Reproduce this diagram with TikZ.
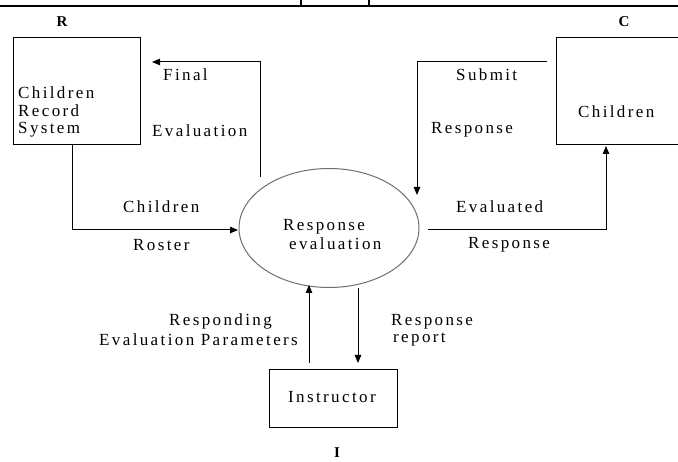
\documentclass[tikz,border=0pt]{standalone}
\usepackage{fontspec}
\setmainfont{Liberation Serif}
\newfontfamily\spaced[LetterSpace=14]{Liberation Serif}
\usetikzlibrary{shapes.geometric,arrows.meta}
\definecolor{ellgray}{RGB}{110,110,110}
\begin{document}
\begin{tikzpicture}[x=1pt,y=-1pt,
  box/.style={draw,line width=1pt,inner sep=0pt},
  lbl/.style={font=\spaced\fontsize{17}{19}\selectfont,inner sep=0pt,anchor=west},
  tag/.style={font=\bfseries\fontsize{15}{17}\selectfont,inner sep=0pt},
  arr/.style={line width=1pt,-{Triangle[length=8pt,width=6.5pt]}}]
\useasboundingbox (0,0) rectangle (678,462);
% table fragment on top
\draw[line width=1.3pt] (0,6) -- (678,6);
\draw[line width=1.3pt] (301,0) -- (301,6);
\draw[line width=1.3pt] (369,0) -- (369,6);
% entities
\node[box,minimum width=127pt,minimum height=107pt] (rbox) at (76.5,91.5) {};
\node[box,minimum width=126pt,minimum height=107pt] (cbox) at (619,91.5) {};
\node[box,minimum width=128pt,minimum height=58pt] (ibox) at (333,399) {};
\node[draw=ellgray,line width=1pt,ellipse,minimum width=180pt,minimum height=119pt,inner sep=0pt] (ell) at (329,228) {};
% texts
\node[lbl] (rtxt1) at (18,93) {Children};
\node[lbl] (rtxt2) at (18,111) {Record};
\node[lbl] (rtxt3) at (18,130) {System};
\node[lbl] (ctxt) at (578,112) {Children};
\node[lbl] (itxt) at (288,397) {Instructor};
\node[lbl] (etxt1) at (283,227) {Response};
\node[lbl] (etxt2) at (289,244) {evaluation};
\node[tag] (tr) at (62,22) {R};
\node[tag] (tc) at (624,22) {C};
\node[tag] (ti) at (337,453) {I};
% connectors
\coordinate (f1) at (260,177);
\coordinate (f2) at (152,62);
\draw[arr] (f1) |- (f2);
\node[lbl] (lf) at (163,75) {Final};
\node[lbl] (le) at (152,131) {Evaluation};

\coordinate (r1) at (72,145);
\coordinate (r2) at (238,230);
\draw[arr] (r1) |- (r2);
\node[lbl] (lc) at (123,207) {Children};
\node[lbl] (lr) at (133,245) {Roster};

\coordinate (s1) at (547,62);
\coordinate (s2) at (417,195);
\draw[arr] (s1) -| (s2);
\node[lbl] (ls) at (456,75) {Submit};
\node[lbl] (lsr) at (431,130) {Response};

\coordinate (v1) at (428,230);
\coordinate (v2) at (606,146);
\draw[arr] (v1) -| (v2);
\node[lbl] (lv) at (456,207) {Evaluated};
\node[lbl] (lvr) at (468,245) {Response};

\coordinate (u1) at (309,363);
\coordinate (u2) at (309,285);
\draw[arr] (u1) -- (u2);
\node[lbl] (lp1) at (169,321) {Responding};
\node[lbl] (lp2) at (99,340) {Evaluation Parameters};

\coordinate (d1) at (358,288);
\coordinate (d2) at (358,363);
\draw[arr] (d1) -- (d2);
\node[lbl] (lrr1) at (391,322) {Response};
\node[lbl] (lrr2) at (393,340) {report};
\end{tikzpicture}
\end{document}
